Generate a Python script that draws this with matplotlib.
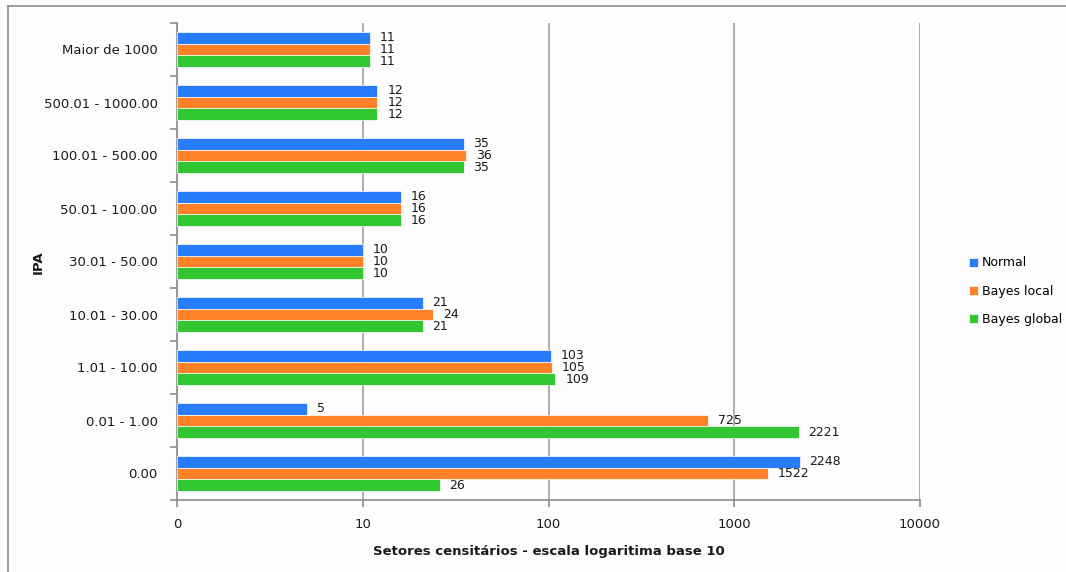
import matplotlib
matplotlib.use("Agg")
import matplotlib.pyplot as plt
import numpy as np
from matplotlib.lines import Line2D

categories = ["0.00", "0.01 - 1.00", "1.01 - 10.00", "10.01 - 30.00", "30.01 - 50.00",
              "50.01 - 100.00", "100.01 - 500.00", "500.01 - 1000.00", "Maior de 1000"]
normal = [2248, 5, 103, 21, 10, 16, 35, 12, 11]
bayes_local = [1522, 725, 105, 24, 10, 16, 36, 12, 11]
bayes_global = [26, 2221, 109, 21, 10, 16, 35, 12, 11]
series_names = ["Normal", "Bayes local", "Bayes global"]
colors = ["#287DFF", "#FF8229", "#33C633"]
tick_values = [1, 10, 100, 1000, 10000]
tick_labels = ["0", "10", "100", "1000", "10000"]

W, H = 1066, 572
fig = plt.figure(figsize=(W / 100, H / 100), dpi=100)
fig.patch.set_facecolor("#FDFDFD")

# outer frame of the chart area (top and left edges)
frame_kw = dict(transform=fig.transFigure, color="#8C8C8C", linewidth=1.2)
fig.lines.append(Line2D([8 / W, 1.0], [1 - 6 / H, 1 - 6 / H], **frame_kw))
fig.lines.append(Line2D([8 / W, 8 / W], [0.0, 1 - 6 / H], **frame_kw))

ax = fig.add_axes([177 / W, 72 / H, (920 - 177) / W, (500 - 23) / H])
ax.set_facecolor("#FDFDFD")
ax.set_xscale("log")
ax.set_xlim(1, 10000)
ax.set_ylim(-0.5, len(categories) - 0.5)

bar_h = 0.22
y = np.arange(len(categories))
offsets = [bar_h, 0, -bar_h]
for vals, name, col, off in zip([normal, bayes_local, bayes_global], series_names, colors, offsets):
    ax.barh(y + off, np.array(vals) - 1, left=1, height=bar_h, color=col,
            edgecolor="white", linewidth=0.5, label=name, zorder=3)
    for yi, v in zip(y, vals):
        ax.annotate(str(v), xy=(v, yi + off), xytext=(7, 0), textcoords="offset points",
                    va="center", ha="left", fontsize=9, color="#1A1A1A", zorder=4)

ax.set_xticks(tick_values)
ax.set_xticklabels(tick_labels)
ax.xaxis.set_minor_locator(matplotlib.ticker.NullLocator())
ax.grid(axis="x", color="#A0A0A0", linewidth=1.2, zorder=0)
ax.set_yticks(y)
ax.set_yticklabels(categories)
ax.set_yticks(np.arange(-0.5, len(categories)), minor=True)
ax.tick_params(axis="y", which="major", length=0, pad=14, labelsize=9.5, labelcolor="#1A1A1A")
ax.tick_params(axis="y", which="minor", length=5, color="#8C8C8C", width=1.2)
ax.tick_params(axis="x", which="major", length=5, color="#8C8C8C", width=1.2,
               pad=8, labelsize=9.5, labelcolor="#1A1A1A")

for side in ["top", "right"]:
    ax.spines[side].set_visible(False)
for side in ["left", "bottom"]:
    ax.spines[side].set_color("#8C8C8C")
    ax.spines[side].set_linewidth(1.2)

ax.set_xlabel("Setores censitários - escala logaritima base 10", fontsize=9.5,
              fontweight="bold", color="#1A1A1A", labelpad=10)
fig.text(38 / W, 1 - 262 / H, "IPA", rotation=90, fontsize=9.5, fontweight="bold",
         color="#1A1A1A", ha="center", va="center")

leg = fig.legend(loc="center left", bbox_to_anchor=(958 / W, 1 - 291 / H),
                 frameon=False, fontsize=9, handlelength=0.7, handleheight=0.7,
                 handletextpad=0.3, labelspacing=1.2)

fig.savefig("out.png", dpi=100, facecolor=fig.get_facecolor())
